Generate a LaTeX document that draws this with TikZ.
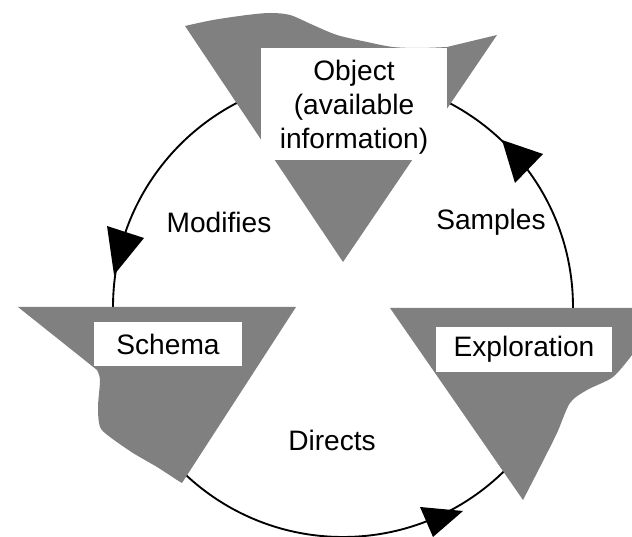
\documentclass[tikz,border=0pt]{standalone}
\usepackage{fontspec}
\setmainfont{Liberation Sans}
\begin{document}
\begin{tikzpicture}[x=0.03cm,y=0.03cm,
  shade/.style={fill=black!50},
  labelbox/.style={fill=white,inner sep=0pt},
  lbl/.style={font=\fontsize{24}{29}\selectfont,align=center,inner sep=0pt},
  cyc/.style={line width=1.6pt},
  head/.style={fill=black}]
\useasboundingbox (0,0) rectangle (632,537);
% cycle
\draw[cyc] (343,230) circle (230);
% Object
\fill[shade] plot[smooth] coordinates {(185,511) (213,517) (247,522) (270,524) (290,522) (313,512) (337,502) (367,495) (393,490) (420,489) (447,490)} -- (497,502) -- (343,275) -- cycle;
\fill[labelbox] (261,489) rectangle (447,377);
\node[lbl] (object) at (354,430) {Object\\(available\\information)};
% Schema
\fill[shade] (18,230) -- plot[smooth] coordinates {(97,167) (100,157) (98,130) (100,110) (110,100) (133,84) (157,70) (177,57) (182,54)} -- (296,230) -- cycle;
\fill[labelbox] (94,215) rectangle (242,171);
\node[lbl] (schema) at (168,193) {Schema};
% Exploration
\fill[shade] (390,229) -- (632,229) -- plot[smooth] coordinates {(632,182) (613,160) (587,147) (570,134) (557,104) (540,70) (523,37)} -- cycle;
\fill[labelbox] (436,210) rectangle (612,165);
\node[lbl] (exploration) at (524,187.5) {Exploration};
% arrowheads
\fill[head] (107,311) -- (144,299) -- (114,262) -- cycle;
\fill[head] (502,397) -- (543,383) -- (515,354) -- cycle;
\fill[head] (463,26) -- (420,30) -- (433,0) -- cycle;
% labels
\node[lbl] (modifies) at (219,315) {Modifies};
\node[lbl] (samples) at (491,315) {Samples};
\node[lbl] (directs) at (332,97) {Directs};
\end{tikzpicture}
\end{document}
